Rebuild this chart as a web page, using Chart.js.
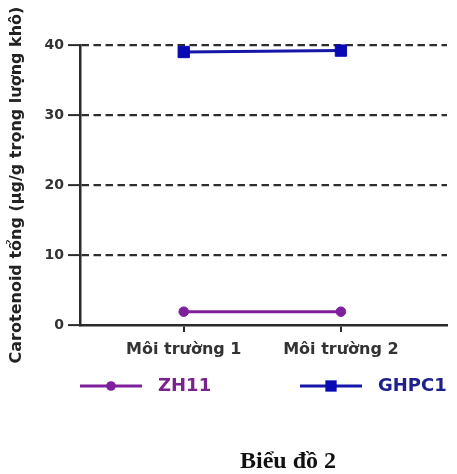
<!DOCTYPE html>
<html>
<head>
<meta charset="utf-8">
<script src="https://cdn.jsdelivr.net/npm/chart.js@4/dist/chart.umd.min.js"></script>
<style>
html,body{margin:0;padding:0;background:#fff;}
#c{display:block;}
</style>
</head>
<body>
<canvas id="c" width="457" height="474"></canvas>
<script>
// ---- data ----
const categories = ['Môi trường 1', 'Môi trường 2'];
const seriesNames = ['ZH11', 'GHPC1'];
const zh11Values = [1.9, 1.9];
const ghpc1Values = [39.0, 39.2];
const yTicks = [0, 10, 20, 30, 40];
const yTitle = 'Carotenoid tổng (µg/g trọng lượng khô)';
const figureCaption = 'Biểu đồ 2';

const purple = '#7e1f9c';
const blue = '#1616a8';
const axisColor = '#2b2b2b';

function toPoints(vals){ return vals.map((v,i)=>({x:i+1, y:v})); }

const legendAndCaption = {
  id: 'legendAndCaption',
  afterDraw(chart){
    const ctx = chart.ctx;
    const startXs = [80, 300];
    const lineLen = 62;
    const y = 386;
    ctx.save();
    chart.data.datasets.forEach((ds, i) => {
      const x0 = startXs[i];
      ctx.strokeStyle = ds.borderColor;
      ctx.lineWidth = 3;
      ctx.beginPath();
      ctx.moveTo(x0, y);
      ctx.lineTo(x0 + lineLen, y);
      ctx.stroke();
      ctx.fillStyle = ds.pointBackgroundColor;
      ctx.beginPath();
      if (ds.pointStyle === 'rect') {
        const s = Math.SQRT1_2 * ds.pointRadius;
        ctx.rect(x0 + lineLen/2 - s, y - s, 2*s, 2*s);
      } else {
        ctx.arc(x0 + lineLen/2, y, ds.pointRadius, 0, Math.PI*2);
      }
      ctx.fill();
      ctx.fillStyle = ds.legendTextColor;
      ctx.font = 'bold 18px "DejaVu Sans"';
      ctx.textAlign = 'left';
      ctx.textBaseline = 'middle';
      ctx.fillText(ds.label, x0 + lineLen + 16, y);
    });
    ctx.fillStyle = '#111';
    ctx.font = 'bold 24px "Liberation Serif"';
    ctx.textAlign = 'center';
    ctx.textBaseline = 'alphabetic';
    ctx.fillText(figureCaption, 288, 468);
    ctx.restore();
  }
};

new Chart(document.getElementById('c'), {
  type: 'line',
  data: {
    datasets: [
      {
        label: seriesNames[0],
        data: toPoints(zh11Values),
        borderColor: purple,
        backgroundColor: purple,
        pointBackgroundColor: purple,
        pointBorderColor: purple,
        pointBorderWidth: 1,
        legendTextColor: '#7a2390',
        pointStyle: 'circle',
        pointRadius: 4.8,
        borderWidth: 3,
        clip: false
      },
      {
        label: seriesNames[1],
        data: toPoints(ghpc1Values),
        borderColor: blue,
        backgroundColor: '#0a0ab4',
        pointBackgroundColor: '#0a0ab4',
        pointBorderColor: '#0a0ab4',
        pointBorderWidth: 1,
        legendTextColor: '#1e218c',
        pointStyle: 'rect',
        pointRadius: 8,
        borderWidth: 3,
        clip: false
      }
    ]
  },
  options: {
    responsive: false,
    animation: false,
    devicePixelRatio: 1,
    layout: { padding: { top: 45, right: 10, left: 0, bottom: 0 } },
    plugins: { legend: { display: false }, tooltip: { enabled: false }, title: { display: false } },
    scales: {
      x: {
        type: 'linear',
        min: 0.34,
        max: 2.675,
        afterBuildTicks: (scale) => { scale.ticks = categories.map((c, i) => ({ value: i + 1 })); },
        afterFit: (scale) => { scale.height = 149; },
        ticks: {
          callback: (v) => categories[v - 1],
          font: { family: 'DejaVu Sans', size: 16, weight: 'bold' },
          color: '#333',
          padding: 8,
          maxRotation: 0,
          autoSkip: false
        },
        grid: { drawOnChartArea: false, drawTicks: true, tickLength: 7, tickColor: axisColor, tickWidth: 2, lineWidth: 2 },
        border: { display: true, color: axisColor, width: 2.5 }
      },
      y: {
        min: 0,
        max: 40,
        afterBuildTicks: (scale) => { scale.ticks = yTicks.map(v => ({ value: v })); },
        afterFit: (scale) => { scale.width = 80; },
        ticks: {
          font: { family: 'DejaVu Sans', size: 14, weight: 'bold' },
          color: '#333',
          padding: 4
        },
        grid: {
          color: (c) => (c.tick && c.tick.value === 0) ? 'rgba(0,0,0,0)' : '#2e2e2e',
          lineWidth: 2.2,
          drawTicks: true,
          tickLength: 12,
          tickColor: axisColor,
          tickWidth: 2
        },
        border: { display: true, color: axisColor, width: 2.5, dash: [7.5, 4.5] },
        title: {
          display: true,
          text: yTitle,
          font: { family: 'DejaVu Sans', size: 16, weight: 'bold' },
          color: '#222',
          padding: { top: 7, bottom: 0 }
        }
      }
    }
  },
  plugins: [legendAndCaption]
});
</script>
</body>
</html>
